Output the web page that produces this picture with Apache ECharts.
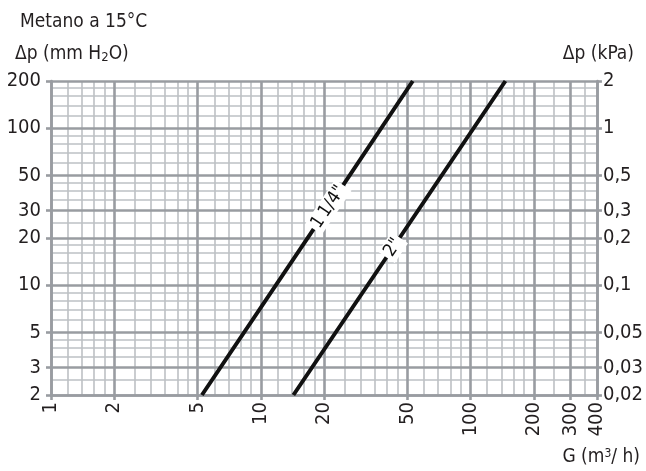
<!DOCTYPE html>
<html>
<head>
<meta charset="utf-8">
<title>Metano a 15°C</title>
<script src="https://cdn.jsdelivr.net/npm/echarts@6/dist/echarts.min.js"></script>
<style>
  html, body { margin: 0; padding: 0; background: #fff; }
  #main { width: 646px; height: 471px; }
</style>
</head>
<body>
<div id="main"></div>
<script type="text/javascript">
// portata G (m3/h) e perdita di carico (mm H2O)
var pipe114G = [5.24, 21, 53];
var pipe114Dp = [2, 31.5, 200];
var pipe2G = [14.3, 42.7, 146.5];
var pipe2Dp = [2, 17.4, 200];

// griglia
var xMajorTicks = [1, 2, 5, 10, 20, 50, 100, 200, 300, 400];
var xMinorTicks = [1.2, 1.4, 1.6, 1.8, 2.5, 3, 3.5, 4, 4.5, 6, 7, 8, 9, 12, 14, 16, 18,
    25, 30, 35, 40, 45, 60, 70, 80, 90, 120, 140, 160, 180, 250, 350];
var yMajorTicks = [2, 3, 5, 10, 20, 30, 50, 100, 200];
var yMinorTicks = [2.5, 3.5, 4, 4.5, 6, 7, 8, 9, 12, 14, 16, 18, 25, 35, 40, 45,
    60, 70, 80, 90, 120, 140, 160, 180];
var kpaTicks = [0.02, 0.03, 0.05, 0.1, 0.2, 0.3, 0.5, 1, 2];

var FONT = "'DejaVu Sans Condensed', 'Liberation Sans', sans-serif";
var TXT = '#231f20';
var MAJOR = '#999ca1';
var MINOR = '#bdc0c4';

function lineData(gs, dps, name) {
    return gs.map(function (g, i) {
        var item = { value: [g, dps[i]] };
        if (i === 1) {
            item.label = {
                show: true,
                position: 'inside',
                formatter: name,
                rotate: 56,
                color: '#111',
                fontFamily: FONT,
                fontSize: 18,
                backgroundColor: '#fff',
                padding: [1, 3]
            };
        }
        return item;
    });
}

var myChart = echarts.init(document.getElementById('main'));

var option = {
    animation: false,
    backgroundColor: '#fff',
    grid: { left: 51, right: 46, top: 81, bottom: 76 },
    xAxis: [{
        // griglia secondaria
        type: 'log', logBase: 10, min: 1, max: 400, z: 0,
        axisLine: { show: false },
        axisTick: { show: false, customValues: xMinorTicks },
        axisLabel: { show: false },
        splitLine: { show: true, lineStyle: { color: MINOR, width: 1.6 } }
    }, {
        type: 'log', logBase: 10, min: 1, max: 400, position: 'bottom', z: 1,
        axisLine: { show: true, onZero: false, lineStyle: { color: MAJOR, width: 2.6 } },
        axisTick: { show: true, customValues: xMajorTicks, length: 5, lineStyle: { color: MAJOR, width: 2.6 } },
        axisLabel: { customValues: xMajorTicks, rotate: 90, margin: 7, fontSize: 20, color: TXT, fontFamily: FONT },
        splitLine: { show: true, lineStyle: { color: MAJOR, width: 2.6 } }
    }],
    yAxis: [{
        type: 'log', logBase: 10, min: 2, max: 200, z: 0,
        axisLine: { show: false },
        axisTick: { show: false, customValues: yMinorTicks },
        axisLabel: { show: false },
        splitLine: { show: true, lineStyle: { color: MINOR, width: 1.6 } }
    }, {
        type: 'log', logBase: 10, min: 2, max: 200, position: 'left', z: 1,
        axisLine: { show: true, onZero: false, lineStyle: { color: MAJOR, width: 2.6 } },
        axisTick: { show: true, customValues: yMajorTicks, length: 5, lineStyle: { color: MAJOR, width: 2.6 } },
        axisLabel: { customValues: yMajorTicks, margin: 10, fontSize: 20, color: TXT, fontFamily: FONT },
        splitLine: { show: true, lineStyle: { color: MAJOR, width: 2.6 } }
    }, {
        type: 'log', logBase: 10, min: 0.02, max: 2, position: 'right', z: 1,
        axisLine: { show: true, onZero: false, lineStyle: { color: MAJOR, width: 2.6 } },
        axisTick: { show: true, customValues: kpaTicks, length: 5, lineStyle: { color: MAJOR, width: 2.6 } },
        axisLabel: {
            customValues: kpaTicks, margin: 6, fontSize: 20, color: TXT, fontFamily: FONT,
            formatter: function (v) { return String(+(+v).toPrecision(3)).replace('.', ','); }
        },
        splitLine: { show: false }
    }],
    graphic: [
        { type: 'text', left: 20, top: 13, style: { text: 'Metano a 15°C', font: '19px ' + FONT, fill: TXT } },
        { type: 'text', left: 15, top: 45, style: {
            text: 'Δp (mm H{s|2}O)', font: '19px ' + FONT, fill: TXT,
            rich: { s: { fontSize: 13, fontFamily: FONT, fill: TXT, verticalAlign: 'bottom' } }
        } },
        { type: 'text', right: 12, top: 45, style: { text: 'Δp (kPa)', font: '19px ' + FONT, fill: TXT } },
        { type: 'text', right: 6, top: 448, style: {
            text: 'G (m{sup|3}/ h)', font: '19px ' + FONT, fill: TXT,
            rich: { sup: { fontSize: 12, fontFamily: FONT, fill: TXT, verticalAlign: 'top' } }
        } }
    ],
    series: [{
        name: '1 1/4"',
        type: 'line',
        xAxisIndex: 1, yAxisIndex: 1,
        showSymbol: true, symbol: 'circle', symbolSize: 0,
        lineStyle: { color: '#111', width: 4 },
        data: lineData(pipe114G, pipe114Dp, '1\u20091/4"'),
        z: 5
    }, {
        name: '2"',
        type: 'line',
        xAxisIndex: 1, yAxisIndex: 1,
        showSymbol: true, symbol: 'circle', symbolSize: 0,
        lineStyle: { color: '#111', width: 4 },
        data: lineData(pipe2G, pipe2Dp, '2"'),
        z: 5
    }]
};

myChart.setOption(option);
</script>
</body>
</html>
